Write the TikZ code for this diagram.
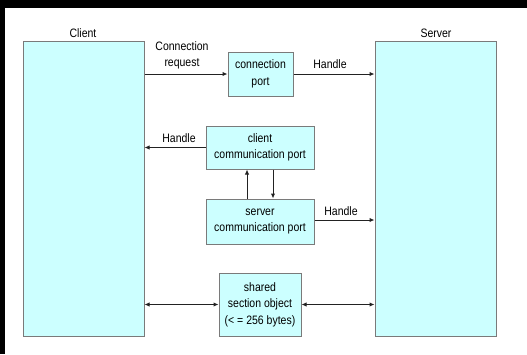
\documentclass[tikz,border=0pt]{standalone}
\usepackage{fontspec}
\setmainfont[FakeStretch=0.86]{Liberation Sans}
\usetikzlibrary{arrows.meta}
\definecolor{boxfill}{HTML}{CCFFFF}
\definecolor{boxline}{HTML}{7A7A7A}
\definecolor{wire}{HTML}{222222}
\begin{document}
\begin{tikzpicture}[x=1pt,y=-1pt,
  font=\fontsize{12.2}{16.5}\selectfont,
  box/.style={draw=boxline, fill=boxfill, line width=1pt, rectangle,
    inner sep=0pt, align=center, anchor=center},
  lbl/.style={inner sep=0pt, align=center, anchor=center},
  wirearrow/.style={draw=wire, line width=1pt,
    -{Latex[length=5pt,width=4.5pt]}},
  wirebi/.style={draw=wire, line width=1pt,
    {Latex[length=5pt,width=4.5pt]}-{Latex[length=5pt,width=4.5pt]}}]
  % page and dark frame strips
  \useasboundingbox (0,0) rectangle (527,354);
  \fill[white] (0,0) rectangle (527,354);
  \fill[black] (0,0) rectangle (527,8);
  \fill[black] (0,0) rectangle (5,354);

  % the two processes
  \node[box, minimum width=121pt, minimum height=295pt] (client) at (83.5,188.5) {};
  \node[box, minimum width=121pt, minimum height=295pt] (server) at (435.5,188.5) {};
  \node[lbl] (clientlbl) at (83,33) {Client};
  \node[lbl] (serverlbl) at (436,33) {Server};

  % ports and the shared section
  \node[box, minimum width=65pt, minimum height=44pt] (cport) at (260.5,74) {connection\\port};
  \node[box, minimum width=108pt, minimum height=43pt] (ccomm) at (260,147.5) {client\\communication port};
  \node[box, minimum width=108pt, minimum height=45pt] (scomm) at (260,221.5) {server\\communication port};
  \node[box, minimum width=82pt, minimum height=63pt] (shared) at (260,304.5) {shared\\section object\\(< = 256 bytes)};

  % start of the handle passed from the server port
  \coordinate (shandle) at ([yshift=1.5pt]scomm.east);

  % connectors
  \draw[wirearrow] (client.east |- cport.west) -- (cport.west);
  \draw[wirearrow] (cport.east) -- (server.west |- cport.east);
  \draw[wirearrow] (ccomm.west) -- (client.east |- ccomm.west);
  \draw[wirearrow] ([xshift=-13pt]scomm.north) -- ([xshift=-13pt]ccomm.south);
  \draw[wirearrow] ([xshift=13pt]ccomm.south) -- ([xshift=13pt]scomm.north);
  \draw[wirearrow] (shandle) -- (server.west |- shandle);
  \draw[wirebi] (client.east |- shared.west) -- (shared.west);
  \draw[wirebi] (shared.east) -- (server.west |- shared.east);

  % connector labels
  \node[lbl] (reqlbl) at (182,55.5) {Connection\\request};
  \node[lbl] (h1) at (330,64.5) {Handle};
  \node[lbl] (h2) at (179,138) {Handle};
  \node[lbl] (h3) at (341,211) {Handle};
\end{tikzpicture}
\end{document}
